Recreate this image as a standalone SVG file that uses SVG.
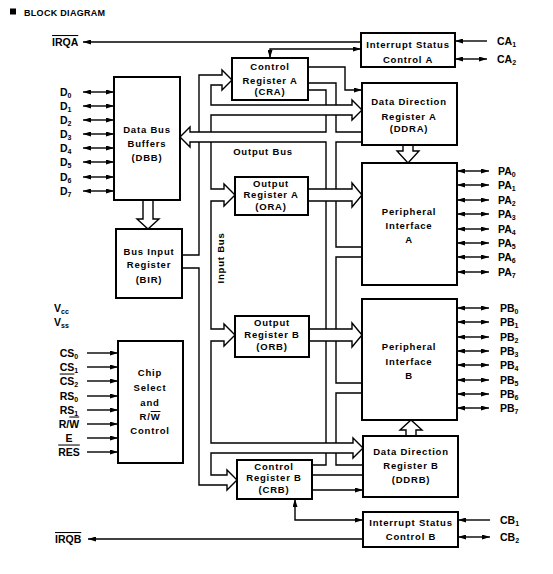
<svg xmlns="http://www.w3.org/2000/svg" width="553" height="574" viewBox="0 0 553 574">
<style>
.bx{fill:#fff;stroke:#000;stroke-width:2}
.t{font-family:"Liberation Sans",Arial,sans-serif;font-weight:bold;font-size:9.5px;letter-spacing:0.8px;text-anchor:middle;fill:#000}
.l{font-family:"Liberation Sans",Arial,sans-serif;font-weight:bold;font-size:10.5px;fill:#000}
.c{text-anchor:middle}
.s{font-size:7px}
.w{fill:none;stroke:#000;stroke-width:1.4}
.a2{marker-start:url(#ah);marker-end:url(#ah)}
.a1{marker-end:url(#ah)}
</style>
<defs>
<marker id="ah" viewBox="0 0 8 5" refX="8" refY="2.5" markerWidth="8" markerHeight="5" markerUnits="userSpaceOnUse" orient="auto-start-reverse"><path d="M0,0L8,2.5L0,5z" fill="#000"/></marker>
</defs>
<rect width="553" height="574" fill="#fff"/>

<g id="title">
<rect x="10" y="8.5" width="6" height="6" fill="#000"/>
<text class="l" x="24" y="15.5" style="font-size:9px;letter-spacing:0.3px">BLOCK DIAGRAM</text>
</g>

<g id="connectors">
<!-- input bus (hollow) -->
<path class="w" d="M199,132 L199,75 L222,75 L222,70 L232,80 L222,90 L222,85 L211,85 L211,105 L352,105 L352,100 L362,110 L352,120 L352,115 L211,115 L211,132"/>
<path class="w" d="M211,142 L211,189 L224,189 L224,184 L235,195 L224,206 L224,201 L211,201 L211,329 L224,329 L224,324 L235,335 L224,346 L224,341 L211,341 L211,443 L353,443 L353,438 L363,448 L353,458 L353,453 L211,453 L211,475 L227,475 L227,470 L237,480 L227,490 L227,485 L199,485 L199,268 L182,268"/>
<path class="w" d="M182,255 L199,255 L199,142"/>
<!-- output bus (hollow) -->
<path class="w" d="M308,90 L326,90 L326,105 M326,115 L326,132 L190,132 L190,127 L180,137 L190,147 L190,142 L326,142 L326,189 M326,201 L326,329 M326,341 L326,443 M326,453 L326,465 L312,465"/>
<path class="w" d="M308,83 L336,83 L336,105 M336,115 L336,132 L362,132"/>
<path class="w" d="M362,142 L336,142 L336,189 M336,201 L336,247 L362,247"/>
<path class="w" d="M362,257 L336,257 L336,329 M336,341 L336,383 L362,383"/>
<path class="w" d="M362,393 L336,393 L336,443 M336,453 L336,465 L363,465"/>
<path class="w" d="M312,475 L363,475"/>
<!-- register to peripheral hollow arrows -->
<path class="w" d="M308,189 L352,189 L352,183 L362,195 L352,207 L352,201 L308,201"/>
<path class="w" d="M309,329 L352,329 L352,323 L362,335 L352,347 L352,341 L309,341"/>
<path class="w" d="M403,145 L403,151 L397,151 L408,163 L419,151 L413,151 L413,145"/>
<path class="w" d="M406,436 L406,430 L400,430 L411,420 L422,430 L416,430 L416,436"/>
<path class="w" d="M143,200 L143,219 L137,219 L148,229 L159,219 L153,219 L153,200"/>
<!-- control lines -->
<path class="w a1" d="M308,67 L345,67 L345,90 L362,90"/>
<path class="w a1" d="M312,490 L363,490"/>
<path class="w a2" d="M270,58 L270,49 L361,49"/>
<path class="w a2" d="M295,499 L295,520 L363,520"/>
<path class="w a1" d="M361,42 L83,42"/>
<path class="w a1" d="M363,539 L88,539"/>
<path class="w a1" d="M487,41 L455,41"/>
<path class="w a2" d="M455,59 L487,59"/>
<path class="w a1" d="M490,520 L458,520"/>
<path class="w a2" d="M458,537 L490,537"/>
<!-- data pins -->
<path class="w a2" d="M83,92 L114,92"/>
<path class="w a2" d="M83,106 L114,106"/>
<path class="w a2" d="M83,120 L114,120"/>
<path class="w a2" d="M83,134 L114,134"/>
<path class="w a2" d="M83,148 L114,148"/>
<path class="w a2" d="M83,162 L114,162"/>
<path class="w a2" d="M83,177 L114,177"/>
<path class="w a2" d="M83,191 L114,191"/>
<!-- chip select pins -->
<path class="w a1" d="M87,353 L118,353"/>
<path class="w a1" d="M87,367 L118,367"/>
<path class="w a1" d="M87,381 L118,381"/>
<path class="w a1" d="M87,396 L118,396"/>
<path class="w a1" d="M87,410 L118,410"/>
<path class="w a1" d="M87,424 L118,424"/>
<path class="w a1" d="M87,438 L118,438"/>
<path class="w a1" d="M87,452 L118,452"/>
<!-- PA pins -->
<path class="w a2" d="M457,171 L489,171"/>
<path class="w a2" d="M457,185 L489,185"/>
<path class="w a2" d="M457,200 L489,200"/>
<path class="w a2" d="M457,214 L489,214"/>
<path class="w a2" d="M457,229 L489,229"/>
<path class="w a2" d="M457,243 L489,243"/>
<path class="w a2" d="M457,257 L489,257"/>
<path class="w a2" d="M457,272 L489,272"/>
<!-- PB pins -->
<path class="w a2" d="M457,308 L489,308"/>
<path class="w a2" d="M457,322 L489,322"/>
<path class="w a2" d="M457,337 L489,337"/>
<path class="w a2" d="M457,351 L489,351"/>
<path class="w a2" d="M457,365 L489,365"/>
<path class="w a2" d="M457,380 L489,380"/>
<path class="w a2" d="M457,394 L489,394"/>
<path class="w a2" d="M457,408 L489,408"/>
<text class="t" x="263" y="155">Output Bus</text>
<text class="t" transform="translate(224,258) rotate(-90)" x="0" y="0">Input Bus</text>
</g>

<g id="isca"><rect class="bx" x="361" y="33" width="94" height="34"/>
<text class="t" x="408" y="48">Interrupt Status</text><text class="t" x="408" y="63">Control A</text></g>
<g id="cra"><rect class="bx" x="232" y="58" width="76" height="42"/>
<text class="t" x="270" y="70">Control</text><text class="t" x="270" y="83.5">Register A</text><text class="t" x="270" y="95">(CRA)</text></g>
<g id="ddra"><rect class="bx" x="362" y="83" width="95" height="62"/>
<text class="t" x="409" y="105">Data Direction</text><text class="t" x="409" y="120">Register A</text><text class="t" x="409" y="132">(DDRA)</text></g>
<g id="dbb"><rect class="bx" x="114" y="77" width="66" height="123"/>
<text class="t" x="147" y="133">Data Bus</text><text class="t" x="147" y="147">Buffers</text><text class="t" x="147" y="161">(DBB)</text></g>
<g id="bir"><rect class="bx" x="116" y="229" width="66" height="69"/>
<text class="t" x="149" y="255">Bus Input</text><text class="t" x="149" y="268">Register</text><text class="t" x="149" y="283">(BIR)</text></g>
<g id="ora"><rect class="bx" x="235" y="177" width="73" height="38"/>
<text class="t" x="271" y="187">Output</text><text class="t" x="271" y="198">Register A</text><text class="t" x="271" y="210">(ORA)</text></g>
<g id="orb"><rect class="bx" x="235" y="316" width="74" height="41"/>
<text class="t" x="272" y="326">Output</text><text class="t" x="272" y="338">Register B</text><text class="t" x="272" y="350">(ORB)</text></g>
<g id="piaa"><rect class="bx" x="362" y="163" width="95" height="122"/>
<text class="t" x="409" y="215">Peripheral</text><text class="t" x="409" y="229">Interface</text><text class="t" x="409" y="243">A</text></g>
<g id="piab"><rect class="bx" x="362" y="299" width="95" height="121"/>
<text class="t" x="409" y="350">Peripheral</text><text class="t" x="409" y="365">Interface</text><text class="t" x="409" y="379">B</text></g>
<g id="cs"><rect class="bx" x="118" y="341" width="65" height="122"/>
<text class="t" x="150" y="376">Chip</text><text class="t" x="150" y="391">Select</text><text class="t" x="150" y="406">and</text>
<text class="t" x="150" y="420">R/<tspan text-decoration="overline">W</tspan></text><text class="t" x="150" y="434">Control</text></g>
<g id="ddrb"><rect class="bx" x="363" y="436" width="95" height="61"/>
<text class="t" x="411" y="455">Data Direction</text><text class="t" x="411" y="469">Register B</text><text class="t" x="411" y="483">(DDRB)</text></g>
<g id="crb"><rect class="bx" x="237" y="460" width="75" height="39"/>
<text class="t" x="274" y="470">Control</text><text class="t" x="274" y="481">Register B</text><text class="t" x="274" y="493">(CRB)</text></g>
<g id="iscb"><rect class="bx" x="363" y="512" width="95" height="35"/>
<text class="t" x="411" y="526">Interrupt Status</text><text class="t" x="411" y="540">Control B</text></g>

<g id="pins">
<text class="l" x="52" y="46"><tspan text-decoration="overline">IRQA</tspan></text>
<text class="l" x="55" y="543"><tspan text-decoration="overline">IRQB</tspan></text>
<text class="l" x="497" y="45">CA<tspan class="s" dy="2">1</tspan></text>
<text class="l" x="497" y="63">CA<tspan class="s" dy="2">2</tspan></text>
<text class="l" x="500" y="524">CB<tspan class="s" dy="2">1</tspan></text>
<text class="l" x="500" y="541">CB<tspan class="s" dy="2">2</tspan></text>
<text class="l" x="60" y="95.5">D<tspan class="s" dy="2">0</tspan></text>
<text class="l" x="60" y="109.5">D<tspan class="s" dy="2">1</tspan></text>
<text class="l" x="60" y="123.5">D<tspan class="s" dy="2">2</tspan></text>
<text class="l" x="60" y="137.5">D<tspan class="s" dy="2">3</tspan></text>
<text class="l" x="60" y="151.5">D<tspan class="s" dy="2">4</tspan></text>
<text class="l" x="60" y="165.5">D<tspan class="s" dy="2">5</tspan></text>
<text class="l" x="60" y="180.5">D<tspan class="s" dy="2">6</tspan></text>
<text class="l" x="60" y="194.5">D<tspan class="s" dy="2">7</tspan></text>
<text class="l" x="54" y="312">V<tspan class="s" dy="2">cc</tspan></text>
<text class="l" x="54" y="326">V<tspan class="s" dy="2">ss</tspan></text>
<text class="l c" x="69" y="356.5">CS<tspan class="s" dy="2">0</tspan></text>
<text class="l c" x="69" y="370.5">CS<tspan class="s" dy="2">1</tspan></text>
<text class="l c" x="69" y="384.5"><tspan text-decoration="overline">CS</tspan><tspan class="s" dy="2">2</tspan></text>
<text class="l c" x="69" y="399.5">RS<tspan class="s" dy="2">0</tspan></text>
<text class="l c" x="69" y="413.5">RS<tspan class="s" dy="2">1</tspan></text>
<text class="l c" x="69" y="427.5">R/<tspan text-decoration="overline">W</tspan></text>
<text class="l c" x="69" y="441.5">E</text>
<text class="l c" x="69" y="455.5"><tspan text-decoration="overline">RES</tspan></text>
<text class="l" x="498" y="174.5">PA<tspan class="s" dy="2">0</tspan></text>
<text class="l" x="498" y="188.5">PA<tspan class="s" dy="2">1</tspan></text>
<text class="l" x="498" y="203.5">PA<tspan class="s" dy="2">2</tspan></text>
<text class="l" x="498" y="217.5">PA<tspan class="s" dy="2">3</tspan></text>
<text class="l" x="498" y="232.5">PA<tspan class="s" dy="2">4</tspan></text>
<text class="l" x="498" y="246.5">PA<tspan class="s" dy="2">5</tspan></text>
<text class="l" x="498" y="260.5">PA<tspan class="s" dy="2">6</tspan></text>
<text class="l" x="498" y="275.5">PA<tspan class="s" dy="2">7</tspan></text>
<text class="l" x="500" y="311.5">PB<tspan class="s" dy="2">0</tspan></text>
<text class="l" x="500" y="325.5">PB<tspan class="s" dy="2">1</tspan></text>
<text class="l" x="500" y="340.5">PB<tspan class="s" dy="2">2</tspan></text>
<text class="l" x="500" y="354.5">PB<tspan class="s" dy="2">3</tspan></text>
<text class="l" x="500" y="368.5">PB<tspan class="s" dy="2">4</tspan></text>
<text class="l" x="500" y="383.5">PB<tspan class="s" dy="2">5</tspan></text>
<text class="l" x="500" y="397.5">PB<tspan class="s" dy="2">6</tspan></text>
<text class="l" x="500" y="411.5">PB<tspan class="s" dy="2">7</tspan></text>
</g>
</svg>
